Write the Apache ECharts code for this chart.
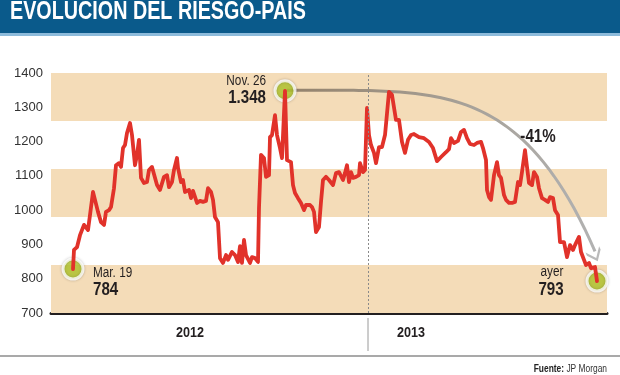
<!DOCTYPE html>
<html><head><meta charset="utf-8">
<script src="https://cdn.jsdelivr.net/npm/echarts@6/dist/echarts.min.js"></script>
<style>html,body{margin:0;padding:0;background:#fff}#c{width:620px;height:375px}</style>
</head><body><div id="c"></div>
<script>
// días aproximados desde el 19 de marzo de 2012
const dias = [
  0,1,4,7,11,13,15,17,20,22, 25,28,31,33,36,38,41,43,46,48,
  50,52,54,57,59,62,64,66,68,71, 74,76,79,80,84,87,91,94,96,99,
  101,104,105,108,110,112,114,116,118,120, 124,127,130,133,135,138,140,142,145,147,
  150,153,155,159,162,165,167,169,171,173, 177,179,182,185,186,188,191,193,196,197,
  199,202,204,207,209,212,214,218,220,222, 225,228,231,233,237,239,241,243,246,248,
  250,253,256,260,263,266,270,272,274,276, 278,280,283,286,287,290,292,294,296,298,
  301,303,306,309,312,316,319,321,323,326, 329,332,335,338,341,346,351,356,360,364,
  368,373,376,378,381,385,388,391,394,397, 401,404,408,410,413,414,416,418,421,424,
  426,428,431,433,436,439,442,445,447,449, 452,454,456,459,461,464,466,469,472,475,
  477,480,482,485,487,491,494,497,500,502, 506,508,511,513,516,518,522,524
];
// riesgo-país (puntos básicos)
const valores = [
  828,884,892,927,957,962,942,986,1053,1030, 995,965,957,995,1000,1009,1064,1131,1137,1126,
  1181,1190,1225,1254,1219,1131,1161,1205,1094,1079, 1082,1117,1126,1123,1073,1059,1097,1102,1067,1082,
  1117,1152,1123,1082,1088,1053,1050,1059,1035,1056, 1021,1027,1024,1027,1064,1053,1030,980,965,860,
  846,869,855,878,869,849,895,846,913,869, 846,863,860,849,1006,1161,1152,1097,1102,1213,
  1219,1277,1219,1181,1152,1348,1146,1140,1073,1050, 1035,1021,1000,1015,1015,1009,995,936,951,1024,
  1088,1097,1088,1073,1108,1111,1088,1108,1131,1082, 1111,1094,1097,1102,1137,1111,1117,1298,1219,1190,
  1167,1137,1184,1184,1219,1345,1336,1336,1263,1263, 1199,1167,1205,1219,1222,1213,1210,1199,1181,1143,
  1155,1169,1178,1210,1196,1202,1228,1234,1210,1193, 1190,1196,1199,1181,1146,1059,1038,1030,1102,1140,
  1102,1094,1044,1030,1021,1021,1024,1082,1073,1111, 1175,1126,1079,1073,1111,1097,1064,1035,1030,1024,
  1038,1035,1000,986,907,907,863,898,884,898, 922,878,855,840,846,831,834,793
];
const yTicks = [700, 800, 900, 1000, 1100, 1200, 1300, 1400];
const bandas = [[1260, 1400], [980, 1120], [700, 840]];
const inicioAnio2013 = 295;
const anios = ['2012', '2013'];
const destacados = [0, 85, dias.length - 1]; // índices: Mar. 19, Nov. 26, ayer
const etiquetas = [['Mar. 19', '784'], ['Nov. 26', '1.348'], ['ayer', '793']];
const variacion = '-41%';

const FONT = '"Liberation Sans",Arial,sans-serif';
const SX = 0.84; // estrechamiento horizontal del texto (tipografía condensada)
const chart = echarts.init(document.getElementById('c'), null, {renderer: 'canvas'});

// curva de la flecha (anotación) desde el máximo hasta el último valor
const a0 = [dias[destacados[1]] + 2, 1350], a1 = [dias[dias.length - 1] - 2, 880];
const arco = [];
for (let i = 0; i <= 60; i++) {
  const t = i / 60;
  arco.push([a0[0] + (a1[0] - a0[0]) * t, a0[1] - (a0[1] - a1[1]) * Math.pow(t, 4.4)]);
}

const serie = dias.map((d, i) => [d, valores[i]]);

function txt(x, y, text, font, align, extra) {
  return Object.assign({type: 'text', x: x, y: y, z: 100, scaleX: SX,
    style: {text: text, fill: '#231f20', font: font, align: align || 'left', verticalAlign: 'middle'}}, extra || {});
}

const CHEVRON = 'path://M0 0 L7 9 L14 0 L14 3.4 L7 12.4 L0 3.4 Z';

function option(rot) {
  return {
  animation: false,
  grid: {left: 51, right: 13, top: 73, bottom: 62},
  xAxis: {type: 'value', min: -22, max: 534, axisLine: {show: true, onZero: false, lineStyle: {color: '#231f20', width: 3}},
    axisTick: {show: false}, axisLabel: {show: false}, splitLine: {show: false}},
  yAxis: {type: 'value', min: yTicks[0], max: yTicks[yTicks.length - 1], interval: 100,
    axisLine: {show: false}, axisTick: {show: false}, splitLine: {show: false},
    axisLabel: {color: '#333', fontSize: 13, fontFamily: FONT, margin: 8, formatter: v => String(v)}},
  series: [
    {type: 'line', data: [], z: 0, silent: true,
      markArea: {silent: true, itemStyle: {color: '#f4dcb8'},
        data: bandas.map(b => [{yAxis: b[0]}, {yAxis: b[1]}])},
      markLine: {silent: true, symbol: ['none', 'none'], label: {show: false},
        lineStyle: {type: [2, 2], color: '#8a8a8a', width: 1}, data: [{xAxis: inicioAnio2013}]}},
    {type: 'lines', coordinateSystem: 'cartesian2d', polyline: true, z: 2, silent: true,
      lineStyle: {width: 3, opacity: 1, color: new echarts.graphic.LinearGradient(0, 0, 1, 0, [
        {offset: 0, color: '#93816a'}, {offset: 0.6, color: '#a7a29a'}, {offset: 1, color: '#b2b2b2'}])},
      data: [{coords: arco}]},
    {type: 'scatter', z: 2, silent: true, symbol: CHEVRON, symbolSize: [15, 13], symbolRotate: rot,
      symbolOffset: [0, 4], itemStyle: {color: '#a9a9a9'}, data: [a1]},
    {type: 'scatter', z: 3, silent: true, symbolSize: 20,
      itemStyle: {color: '#b7cb30', borderColor: '#fff', borderWidth: 3, shadowBlur: 3, shadowColor: 'rgba(0,0,0,0.25)'},
      data: destacados.map(i => [dias[i], valores[i]])},
    {type: 'line', z: 4, data: serie, showSymbol: false, symbol: 'none', silent: true,
      lineStyle: {color: '#e1322a', width: 3.8, join: 'round', cap: 'round'}}
  ],
  graphic: [
    {type: 'rect', z: 90, shape: {x: 0, y: 0, width: 620, height: 33}, style: {fill: '#0a5a8b'}},
    {type: 'rect', z: 90, shape: {x: 0, y: 33, width: 620, height: 3}, style: {fill: '#8dbbdb'}},
    txt(10, 12, 'EVOLUCION DEL RIESGO-PAIS', 'bold 25px ' + FONT, 'left', {scaleX: 0.79, style: {text: 'EVOLUCION DEL RIESGO-PAIS', fill: '#fff', font: 'bold 25px ' + FONT, verticalAlign: 'middle'}}),
    txt(266, 81, etiquetas[1][0], '14px ' + FONT, 'right'),
    txt(266, 98, etiquetas[1][1], 'bold 18px ' + FONT, 'right'),
    txt(93, 273, etiquetas[0][0], '14px ' + FONT, 'left'),
    txt(93, 290, etiquetas[0][1], 'bold 18px ' + FONT, 'left'),
    txt(552, 272, etiquetas[2][0], '14px ' + FONT, 'center'),
    txt(551, 290, etiquetas[2][1], 'bold 18px ' + FONT, 'center'),
    txt(538, 137, variacion, 'bold 18px ' + FONT, 'center'),
    txt(190, 333, anios[0], 'bold 15px ' + FONT, 'center'),
    txt(411, 333, anios[1], 'bold 15px ' + FONT, 'center'),
    {type: 'line', z: 90, shape: {x1: 368, y1: 318, x2: 368, y2: 351}, style: {stroke: '#9a9a9a', lineWidth: 1}},
    {type: 'line', z: 90, shape: {x1: 0, y1: 356, x2: 620, y2: 356}, style: {stroke: '#8c8c8c', lineWidth: 1.5}},
    txt(607, 369, '{b|Fuente:} JP Morgan', '10px ' + FONT, 'right', {style: {text: '{b|Fuente:} JP Morgan', fill: '#333', font: '10px ' + FONT, align: 'right', verticalAlign: 'middle',
      rich: {b: {font: 'bold 10px ' + FONT, fill: '#222'}}}})
  ]};
}

chart.setOption(option(0));
// orientar la punta de flecha según la tangente final de la curva
const pA = chart.convertToPixel({gridIndex: 0}, arco[arco.length - 3]);
const pB = chart.convertToPixel({gridIndex: 0}, arco[arco.length - 1]);
const rot = Math.atan2(pB[0] - pA[0], pB[1] - pA[1]) * 180 / Math.PI;
chart.setOption(option(rot), true);
</script></body></html>
